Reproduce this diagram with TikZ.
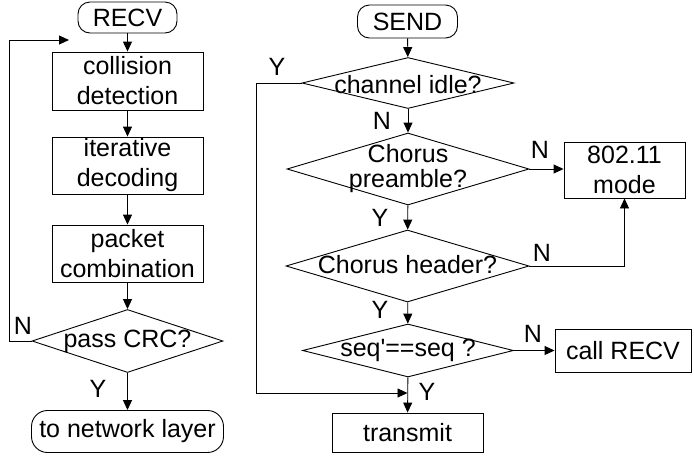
\documentclass[tikz,border=0pt]{standalone}
\usepackage{fontspec}
\setmainfont{Liberation Sans}[Ligatures=TeXOff]
\usetikzlibrary{shapes.geometric,arrows.meta}

\tikzset{
  every node/.style={font=\fontsize{25}{30}\selectfont, inner sep=0pt},
  procbox/.style={draw, rectangle, align=center},
  termbox/.style={draw, rectangle, align=center, rounded corners=#1},
  decision/.style={draw, diamond, inner sep=0pt},
  answer/.style={inner sep=0pt},
  flow/.style={-{Triangle[length=10pt,width=9pt]}},
}

\begin{document}
\begin{tikzpicture}[x=1pt, y=-1pt, line width=0.9pt, line join=miter]
\useasboundingbox (0,0) rectangle (694,459);

% ---------- receive path ----------
\node[termbox=12pt, minimum width=99pt, minimum height=31pt] (recv) at (127.5,17.5) {RECV};
\node[procbox, minimum width=151pt, minimum height=58pt] (coll) at (127.5,81) {collision\\detection};
\node[procbox, minimum width=151pt, minimum height=57pt] (iter) at (127.5,165.5) {iterative\\decoding};
\node[procbox, minimum width=151pt, minimum height=57pt] (pack) at (127.5,253.5) {packet\\combination};
\node[decision, minimum width=191pt, minimum height=63pt] (crc) at (127.5,341) {};
\node (crcT) at (127.5,341) {pass CRC?};
\node[termbox=16pt, minimum width=192pt, minimum height=42pt] (net) at (127.5,431.5) {to network layer};
\coordinate (recvIn) at (69,40);

\draw[flow] (recv) -- (coll);
\draw[flow] (coll) -- (iter);
\draw[flow] (iter) -- (pack);
\draw[flow] (pack) -- (crc);
\draw[flow] (crc) -- (net);
\draw[flow] (crc.west) -- ++(-22,0) |- (recvIn);

\node[answer] (crcN) at (23,326) {N};
\node[answer] (crcY) at (98,389) {Y};

% ---------- send path ----------
\node[termbox=12pt, minimum width=100pt, minimum height=33pt] (send) at (407.5,21.5) {SEND};
\node[decision, minimum width=212pt, minimum height=51pt] (idle) at (408,83) {};
\node (idleT) at (408,84.5) {channel idle?};
\node[decision, minimum width=242pt, minimum height=72pt] (pre) at (408,169) {};
\node[align=center, font=\fontsize{25}{25}\selectfont] (preT) at (408,169) {Chorus\\preamble?};
\node[decision, minimum width=243pt, minimum height=72pt] (hdr) at (407.5,266) {};
\node (hdrT) at (407.5,265) {Chorus header?};
\node[decision, minimum width=211pt, minimum height=53pt] (seq) at (408,350.5) {};
\node (seqT) at (408,350.5) {seq'==seq ?};
\node[procbox, minimum width=151pt, minimum height=39pt] (tx) at (407.5,432.5) {transmit};
\node[procbox, minimum width=121pt, minimum height=56pt] (mode) at (624.5,170) {802.11\\mode};
\node[procbox, minimum width=136pt, minimum height=43pt] (call) at (623,350.5) {call RECV};
\coordinate (sendIn) at (407.5,393);

\draw[flow] (send) -- (idle);
\draw[flow] (idle) -- (pre);
\draw[flow] (pre) -- (hdr);
\draw[flow] (hdr) -- (seq);
\draw[flow] (seq) -- (tx);
\draw[flow] (pre.east) -- (pre.east -| mode.west);
\draw[flow] (hdr.east) -| (mode.south);
\draw[flow] (seq.east) -- (seq.east -| call.west);
\draw[flow] (idle.west) -- ++(-45,0) |- (sendIn);

\node[answer] (idleY) at (277,67) {Y};
\node[answer] (idleN) at (382,121) {N};
\node[answer] (preY) at (380,218) {Y};
\node[answer] (preN) at (540,150) {N};
\node[answer] (hdrN) at (542,253) {N};
\node[answer] (hdrY) at (380,310) {Y};
\node[answer] (seqN) at (533,334) {N};
\node[answer] (seqY) at (427,392) {Y};
\end{tikzpicture}
\end{document}
